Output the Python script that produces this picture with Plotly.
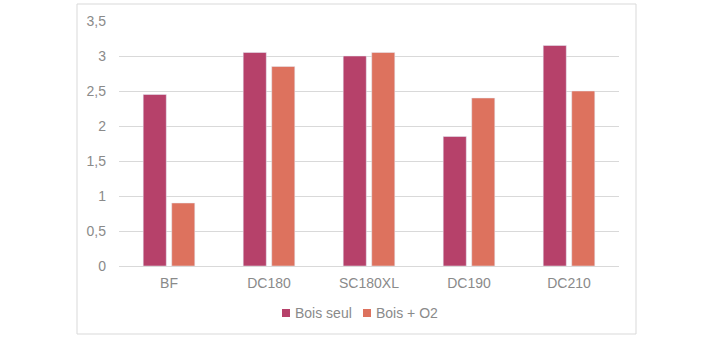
import plotly.graph_objects as go

categories = ["BF", "DC180", "SC180XL", "DC190", "DC210"]
bois_seul = [2.45, 3.05, 3.0, 1.85, 3.15]
bois_o2 = [0.9, 2.85, 3.05, 2.4, 2.5]
y_ticks = [0, 0.5, 1, 1.5, 2, 2.5, 3, 3.5]
y_tick_labels = ["0", "0,5", "1", "1,5", "2", "2,5", "3", "3,5"]
series_names = ["Bois seul", "Bois + O2"]
series_colors = ["#B6416A", "#DD725E"]

W, H = 714, 337
L, R, T, B = 119, 95, 21, 71
pw, ph = W - L - R, H - T - B
TXT = "#8A8A8A"

def px(x):
    return (x - L) / pw

def py(y):
    return (H - B - y) / ph

fig = go.Figure()
for name, vals, col in zip(series_names, [bois_seul, bois_o2], series_colors):
    fig.add_trace(go.Bar(x=categories, y=vals, name=name, marker_color=col, showlegend=False))

shapes = [dict(type="rect", xref="paper", yref="paper",
               x0=px(77), x1=px(636), y0=py(334), y1=py(4),
               line=dict(color="#D9D9D9", width=1), fillcolor="rgba(0,0,0,0)", layer="below")]
annotations = []
legend_sq = [282, 363]
for name, col, sx in zip(series_names, series_colors, legend_sq):
    shapes.append(dict(type="rect", xref="paper", yref="paper",
                       x0=px(sx), x1=px(sx + 8), y0=py(317), y1=py(309),
                       line=dict(width=0), fillcolor=col))
    annotations.append(dict(xref="paper", yref="paper", x=px(sx + 11), y=py(313),
                            xanchor="left", yanchor="middle", showarrow=False,
                            text=name, font=dict(size=14, color=TXT)))

fig.update_layout(
    width=W, height=H,
    margin=dict(l=L, r=R, t=T, b=B),
    paper_bgcolor="white", plot_bgcolor="white",
    barmode="group", bargap=0.43, bargroupgap=0.19,
    font=dict(family="Liberation Sans, Arial, sans-serif", size=14, color=TXT),
    showlegend=False,
    xaxis=dict(showgrid=False, showline=True, linecolor="#D9D9D9", ticks="",
               ticklabelstandoff=4, tickfont=dict(size=14, color=TXT)),
    yaxis=dict(range=[0, 3.5], tickvals=y_ticks, ticktext=y_tick_labels, showgrid=True,
               gridcolor="#D9D9D9", gridwidth=1, zeroline=False, showline=False, ticks="",
               ticklabelstandoff=12, tickfont=dict(size=14, color=TXT)),
    shapes=shapes,
    annotations=annotations,
)

fig.write_html("out.html")
